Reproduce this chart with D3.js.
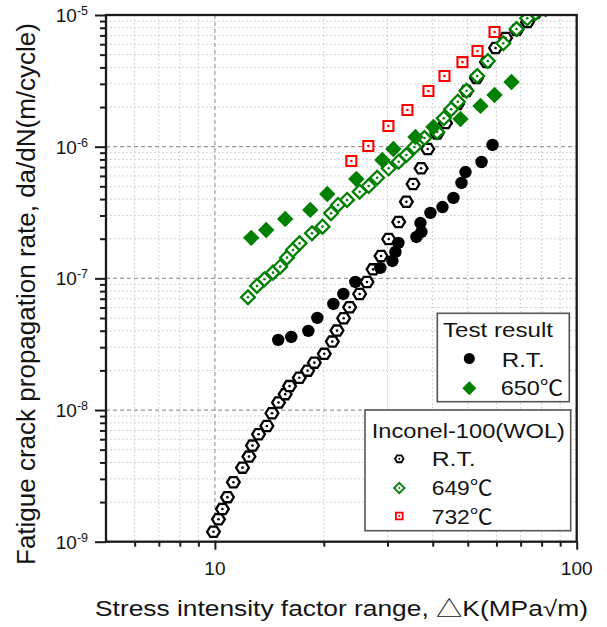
<!DOCTYPE html>
<html><head><meta charset="utf-8">
<script src="https://cdn.jsdelivr.net/npm/d3@7"></script>
<style>
body{margin:0;background:#fff;}
text{font-family:"Liberation Sans",Arial,"Noto Sans CJK SC",sans-serif;fill:#141414;}
</style></head><body>
<svg id="chart" width="607" height="627"></svg>
<script>
// ---- tick labels ----
const xTickValues=[10,100];
const xTickLabels=["10","100"];
const yTickValues=[1e-9,1e-8,1e-7,1e-6,1e-5];
const yTickExponents=["-9","-8","-7","-6","-5"];

// ---- data: Inconel-100 (WOL), R.T. (open hexagons) ----
const incoRT_K=[9.91,10.23,10.49,10.83,11.25,11.92,12.42,12.70,13.20,13.92,14.38,14.99,15.64,16.08,17.11,18.04,18.83,20.06,21.11,21.75,22.69,23.57,25.12,26.33,27.36,28.79,30.22,32.21,33.83,35.30,37.15,38.75,41.14,43.38,46.83,49.6,52.85,56.33,59.66,63.58,68.2,73.13,76.96];
const incoRT_rate=[1.19e-9,1.48e-9,1.77e-9,2.18e-9,2.83e-9,3.65e-9,4.43e-9,5.37e-9,6.55e-9,7.57e-9,9.46e-9,1.14e-8,1.32e-8,1.52e-8,1.76e-8,1.99e-8,2.29e-8,2.67e-8,3.31e-8,4.01e-8,4.98e-8,6.03e-8,7.61e-8,9.39e-8,1.17e-7,1.48e-7,1.99e-7,2.68e-7,3.82e-7,5.21e-7,6.85e-7,9.60e-7,1.26e-6,1.51e-6,2.11e-6,2.65e-6,3.32e-6,4.39e-6,5.62e-6,6.69e-6,7.69e-6,8.85e-6,1.035e-5];
// ---- Inconel-100 (WOL), 649°C (open green diamonds) ----
const inco649_K=[12.34,13.07,13.71,14.47,15.15,15.82,16.43,17.14,18.55,19.84,20.94,21.89,23.19,25.12,26.61,28.07,30.22,32.21,33.83,35.60,37.94,41.14,42.91,44.98,46.92,49.6,53.09,56.80,62.66,68.2,72.99,76.96,82.04];
const inco649_rate=[7.19e-8,8.76e-8,9.84e-8,1.105e-7,1.227e-7,1.436e-7,1.643e-7,1.847e-7,2.20e-7,2.47e-7,3.12e-7,3.61e-7,3.94e-7,4.55e-7,5.03e-7,5.81e-7,6.85e-7,7.69e-7,8.65e-7,9.95e-7,1.164e-6,1.293e-6,1.643e-6,1.923e-6,2.196e-6,2.66e-6,3.44e-6,4.47e-6,6.10e-6,7.83e-6,9.44e-6,1.035e-5,1.11e-5];
// ---- Inconel-100 (WOL), 732°C (open red squares) ----
const inco732_K=[23.83,26.55,30.17,34.05,38.92,43.11,48.33,53.18,59.28];
const inco732_rate=[7.79e-7,1.012e-6,1.437e-6,1.90e-6,2.65e-6,3.44e-6,4.39e-6,5.33e-6,7.43e-6];
// ---- Test result, R.T. (filled black circles) ----
const testRT_K=[14.96,16.26,18.12,19.19,21.25,22.65,24.44,28.66,30.94,31.54,32.15,36.06,37.23,36.99,39.42,42.56,45.64,48.03,49.27,54.57,58.53];
const testRT_rate=[3.41e-8,3.59e-8,3.99e-8,5.01e-8,6.39e-8,7.61e-8,9.39e-8,1.20e-7,1.355e-7,1.587e-7,1.857e-7,2.063e-7,2.25e-7,2.63e-7,3.14e-7,3.48e-7,4.08e-7,5.30e-7,6.42e-7,7.65e-7,1.03e-6];
// ---- Test result, 650°C (filled green diamonds) ----
const test650_K=[12.60,13.86,15.64,18.35,20.45,24.60,29.03,31.14,35.83,40.18,47.73,54.22,59.28,66.05];
const test650_rate=[2.03e-7,2.33e-7,2.82e-7,3.31e-7,4.37e-7,5.68e-7,7.93e-7,9.60e-7,1.185e-6,1.411e-6,1.623e-6,2.04e-6,2.47e-6,3.10e-6];

const GREEN="#008000", RED="#ff0000", BLACK="#000";

const svg=d3.select("#chart");
const L=106,R=576.7,T=15,B=541.7;
const x=d3.scaleLog().domain([5,100]).range([L,R]);
const y=d3.scaleLog().domain([1e-9,1e-5]).range([B,T]);

const xMinor=[];
[1,10].forEach(d=>{for(let m=2;m<=9;m++){const v=m*d;if(v>5&&v<100)xMinor.push(v);}});
const yMinor=[];
[-9,-8,-7,-6].forEach(e=>{for(let m=2;m<=9;m++)yMinor.push(m*Math.pow(10,e));});
const xMajorGrid=[10];
const yMajorGrid=[1e-8,1e-7,1e-6];

// ---- grid ----
const grid=svg.append("g");
grid.selectAll(".gx").data(xMinor).join("line")
  .attr("x1",d=>x(d)).attr("x2",d=>x(d)).attr("y1",T).attr("y2",B)
  .attr("stroke","#c4c4c4").attr("stroke-width",1).attr("stroke-dasharray","1.5,2.5");
grid.selectAll(".gy").data(yMinor).join("line")
  .attr("y1",d=>y(d)).attr("y2",d=>y(d)).attr("x1",L).attr("x2",R)
  .attr("stroke","#c4c4c4").attr("stroke-width",1).attr("stroke-dasharray","1.5,2.5");
grid.selectAll(".gX").data(xMajorGrid).join("line")
  .attr("x1",d=>x(d)).attr("x2",d=>x(d)).attr("y1",T).attr("y2",B)
  .attr("stroke","#9a9a9a").attr("stroke-width",1.2).attr("stroke-dasharray","4,3");
grid.selectAll(".gY").data(yMajorGrid).join("line")
  .attr("y1",d=>y(d)).attr("y2",d=>y(d)).attr("x1",L).attr("x2",R)
  .attr("stroke","#9a9a9a").attr("stroke-width",1.2).attr("stroke-dasharray","4,3");

// ---- axes ticks ----
function styleAxis(g){g.select(".domain").remove();g.selectAll("line").attr("stroke","#1a1a1a").attr("stroke-width",2);}
svg.append("g").attr("transform",`translate(0,${B})`)
  .call(d3.axisBottom(x).tickValues(xMinor).tickSize(5).tickFormat("")).call(styleAxis);
svg.append("g").attr("transform",`translate(0,${B})`)
  .call(d3.axisBottom(x).tickValues(xTickValues).tickSize(8).tickFormat("")).call(styleAxis);
svg.append("g").attr("transform",`translate(${L},0)`)
  .call(d3.axisLeft(y).tickValues(yMinor).tickSize(6).tickFormat("")).call(styleAxis);
svg.append("g").attr("transform",`translate(${L},0)`)
  .call(d3.axisLeft(y).tickValues(yTickValues).tickSize(11).tickFormat("")).call(styleAxis);

// ---- tick labels ----
const yl=svg.append("g").selectAll("text").data(yTickValues).join("text")
  .attr("x",88).attr("y",d=>y(d)+7).attr("text-anchor","end").attr("font-size",19);
yl.append("tspan").text("10");
yl.append("tspan").attr("dy",-7).attr("font-size",12.5).text((d,i)=>yTickExponents[i]);
svg.append("g").selectAll("text").data(xTickValues).join("text")
  .attr("x",d=>x(d)).attr("y",575).attr("text-anchor","middle").attr("font-size",19)
  .text((d,i)=>xTickLabels[i]);

// ---- axis titles ----
svg.append("text").attr("x",341.5).attr("y",616).attr("text-anchor","middle")
  .attr("font-size",22).attr("textLength",493).attr("lengthAdjust","spacingAndGlyphs")
  .text("Stress intensity factor range, \u25B3K(MPa\u221Am)");
svg.append("text").attr("transform","translate(34.5,294) rotate(-90)").attr("text-anchor","middle")
  .attr("font-size",25.5).attr("textLength",542).attr("lengthAdjust","spacingAndGlyphs")
  .text("Fatigue crack propagation rate, da/dN(m/cycle)");

// ---- marker shapes ----
function hexPath(r){const p=d3.range(6).map(i=>{const a=Math.PI/3*i;return [r*Math.cos(a),r*0.92*Math.sin(a)];});return "M"+p.map(q=>q.join(",")).join("L")+"Z";}
function diamondPath(h){return `M0,${-h}L${h},0L0,${h}L${-h},0Z`;}
function squarePath(s){return `M${-s},${-s}H${s}V${s}H${-s}Z`;}

function drawOpen(g,path,color,sw){
  g.append("path").attr("d",path).attr("fill","#fff").attr("stroke",color).attr("stroke-width",sw);
  g.append("circle").attr("r",1.3).attr("fill",color);
}

svg.append("defs").append("clipPath").attr("id","clip")
  .append("rect").attr("x",L).attr("y",T).attr("width",R-L).attr("height",B-T);
const plot=svg.append("g").attr("clip-path","url(#clip)");

function series(Ks,rates){return Ks.map((k,i)=>({k,r:rates[i]}));}

plot.append("g").selectAll("g").data(series(incoRT_K,incoRT_rate)).join("g")
  .attr("transform",d=>`translate(${x(d.k)},${y(d.r)})`)
  .each(function(){drawOpen(d3.select(this),hexPath(6.4),BLACK,2.3);});
plot.append("g").selectAll("g").data(series(inco649_K,inco649_rate)).join("g")
  .attr("transform",d=>`translate(${x(d.k)},${y(d.r)})`)
  .each(function(){drawOpen(d3.select(this),diamondPath(6.9),GREEN,2.3);});
plot.append("g").selectAll("g").data(series(inco732_K,inco732_rate)).join("g")
  .attr("transform",d=>`translate(${x(d.k)},${y(d.r)})`)
  .each(function(){drawOpen(d3.select(this),squarePath(5),RED,2.1);});
plot.append("g").selectAll("circle").data(series(testRT_K,testRT_rate)).join("circle")
  .attr("cx",d=>x(d.k)).attr("cy",d=>y(d.r)).attr("r",6.2).attr("fill",BLACK);
plot.append("g").selectAll("path").data(series(test650_K,test650_rate)).join("path")
  .attr("transform",d=>`translate(${x(d.k)},${y(d.r)})`).attr("d",diamondPath(8.2)).attr("fill",GREEN);

// ---- frame ----
svg.append("rect").attr("x",L).attr("y",T).attr("width",R-L).attr("height",B-T)
  .attr("fill","none").attr("stroke","#1a1a1a").attr("stroke-width",2.3);

// ---- legends ----
const lg1=svg.append("g");
lg1.append("rect").attr("x",437.3).attr("y",313.3).attr("width",132).attr("height",88.4)
  .attr("fill","#fff").attr("stroke","#555").attr("stroke-width",1.6);
lg1.append("text").attr("x",443).attr("y",337).attr("font-size",21).attr("textLength",110).attr("lengthAdjust","spacingAndGlyphs").text("Test result");
lg1.append("circle").attr("cx",469.3).attr("cy",358.5).attr("r",5.5).attr("fill",BLACK);
lg1.append("text").attr("x",501.7).attr("y",366.5).attr("font-size",21).attr("textLength",43).attr("lengthAdjust","spacingAndGlyphs").text("R.T.");
lg1.append("path").attr("transform","translate(469.3,388.3)").attr("d",diamondPath(7)).attr("fill",GREEN);
lg1.append("text").attr("x",500.7).attr("y",395.3).attr("font-size",21).attr("textLength",62.6).attr("lengthAdjust","spacingAndGlyphs").text("650\u2103");

const lg2=svg.append("g");
lg2.append("rect").attr("x",365).attr("y",410).attr("width",205.7).attr("height",120.7)
  .attr("fill","#fff").attr("stroke","#555").attr("stroke-width",1.6);
lg2.append("text").attr("x",371.7).attr("y",437.5).attr("font-size",21).attr("textLength",193.3).attr("lengthAdjust","spacingAndGlyphs").text("Inconel-100(WOL)");
const l2=[{p:hexPath(4.3),c:BLACK,t:"R.T.",w:44,cy:458.8,by:466.3},
          {p:diamondPath(5.2),c:GREEN,t:"649\u2103",w:61,cy:488,by:495.3},
          {p:squarePath(3.4),c:RED,t:"732\u2103",w:61,cy:516,by:523.5}];
l2.forEach(d=>{
  const g=lg2.append("g").attr("transform",`translate(399.3,${d.cy})`);
  g.append("path").attr("d",d.p).attr("fill","#fff").attr("stroke",d.c).attr("stroke-width",1.8);
  g.append("circle").attr("r",1.1).attr("fill",d.c);
  lg2.append("text").attr("x",431.7).attr("y",d.by).attr("font-size",21).attr("textLength",d.w).attr("lengthAdjust","spacingAndGlyphs").text(d.t);
});
</script>
</body></html>
